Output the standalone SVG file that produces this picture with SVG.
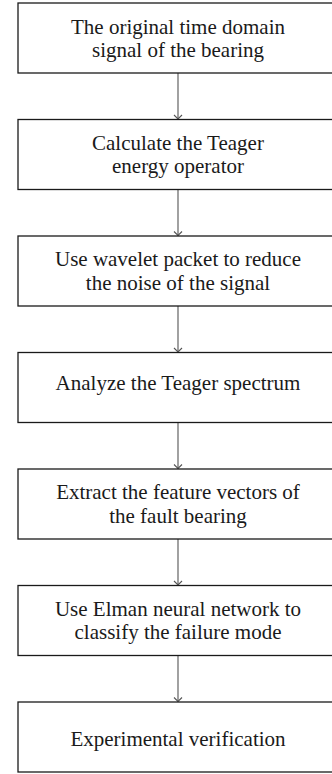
<svg xmlns="http://www.w3.org/2000/svg" width="332" height="774" viewBox="0 0 332 774">
<style>
.box{fill:#fff;stroke:#1a1a1a;stroke-width:1.3}
.t{font-family:"Liberation Serif","Times New Roman",serif;font-size:21px;fill:#1a1a1a;text-anchor:middle}
.c{stroke:#555;stroke-width:1.1;fill:none}
</style>
<defs>
<marker id="ah" markerWidth="10" markerHeight="10" refX="5" refY="5" orient="auto" markerUnits="userSpaceOnUse">
<path d="M1,1 L5,5 L1,9" fill="none" stroke="#555" stroke-width="1.1"/>
</marker>
</defs>
<g id="connectors">
<line class="c" x1="178" y1="73" x2="178" y2="119" marker-end="url(#ah)"/>
<line class="c" x1="178" y1="189.5" x2="178" y2="235.5" marker-end="url(#ah)"/>
<line class="c" x1="178" y1="306" x2="178" y2="352" marker-end="url(#ah)"/>
<line class="c" x1="178" y1="422.5" x2="178" y2="468.5" marker-end="url(#ah)"/>
<line class="c" x1="178" y1="539" x2="178" y2="585" marker-end="url(#ah)"/>
<line class="c" x1="178" y1="655.5" x2="178" y2="701.5" marker-end="url(#ah)"/>
</g>
<g id="n1"><rect class="box" x="18" y="3" width="330" height="70"/>
<text class="t" x="178" y="33.5">The original time domain</text>
<text class="t" x="178" y="57">signal of the bearing</text></g>
<g id="n2"><rect class="box" x="18" y="119.5" width="330" height="70"/>
<text class="t" x="178" y="149.5">Calculate the Teager</text>
<text class="t" x="178" y="173">energy operator</text></g>
<g id="n3"><rect class="box" x="18" y="236" width="330" height="70"/>
<text class="t" x="178" y="266">Use wavelet packet to reduce</text>
<text class="t" x="178" y="289.5">the noise of the signal</text></g>
<g id="n4"><rect class="box" x="18" y="352.5" width="330" height="70"/>
<text class="t" x="178" y="389.5">Analyze the Teager spectrum</text></g>
<g id="n5"><rect class="box" x="18" y="469" width="330" height="70"/>
<text class="t" x="178" y="499">Extract the feature vectors of</text>
<text class="t" x="178" y="522.5">the fault bearing</text></g>
<g id="n6"><rect class="box" x="18" y="585.5" width="330" height="70"/>
<text class="t" x="178" y="615.5">Use Elman neural network to</text>
<text class="t" x="178" y="639">classify the failure mode</text></g>
<g id="n7"><rect class="box" x="18" y="702" width="330" height="70"/>
<text class="t" x="178" y="745.5">Experimental verification</text></g>
</svg>
